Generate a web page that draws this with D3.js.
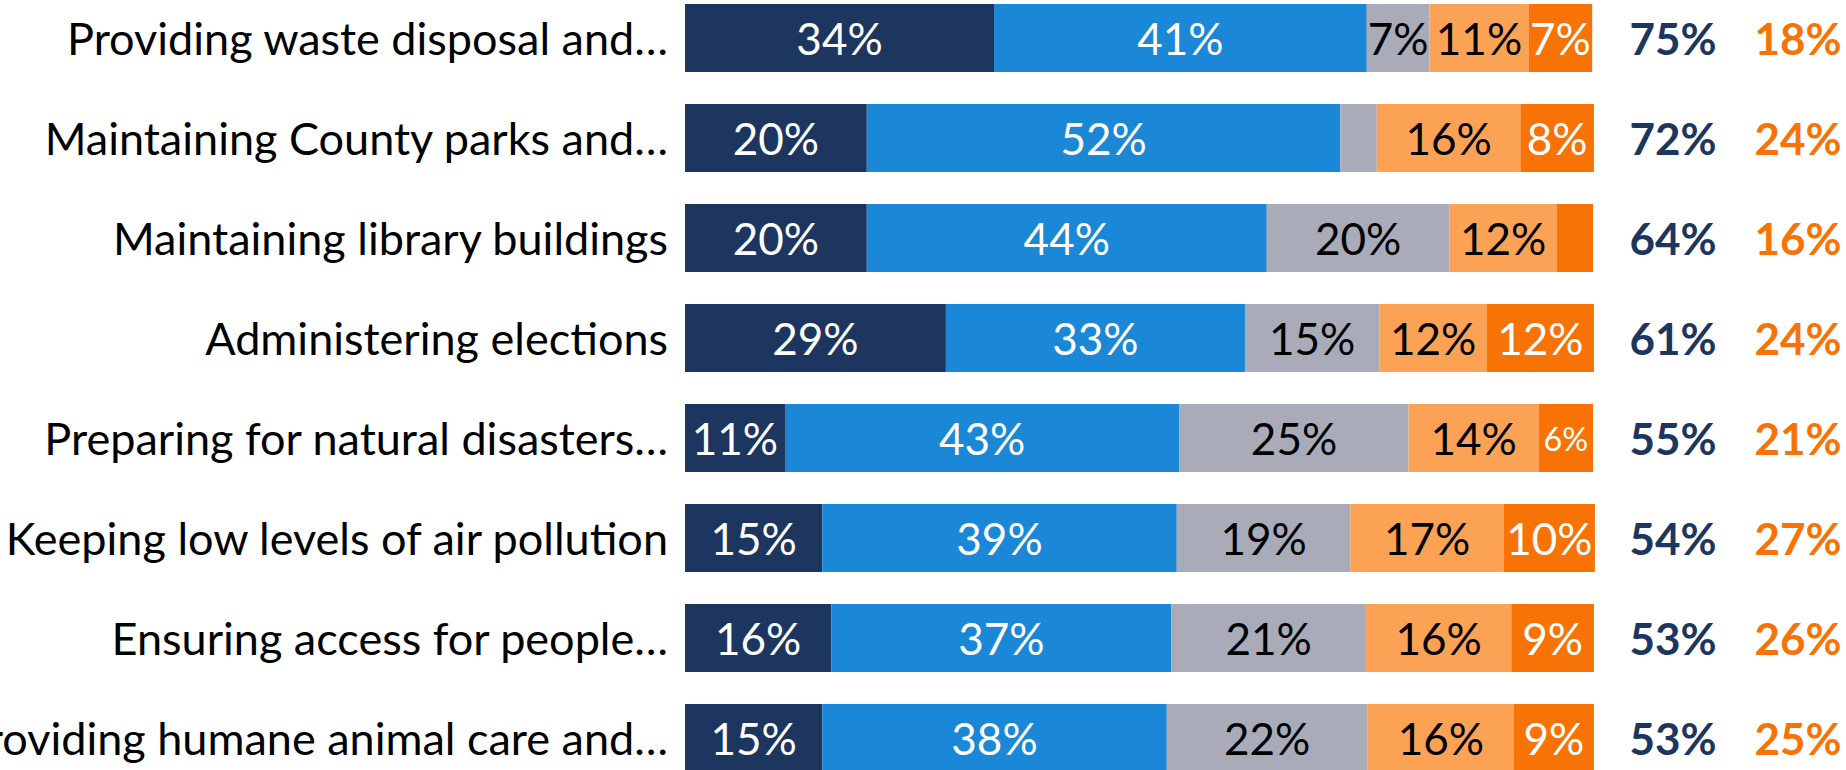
<!DOCTYPE html>
<html>
<head>
<meta charset="utf-8">
<script src="https://cdn.jsdelivr.net/npm/d3@7"></script>
<style>
    body { margin: 0; background: #fff; }
    svg { display: block; }
</style>
</head>
<body>
<svg id="chart" width="1846" height="770"></svg>
<script>
(function() {
    // services, top to bottom
    var categories = [
        "Providing waste disposal and…",
        "Maintaining County parks and…",
        "Maintaining library buildings",
        "Administering elections",
        "Preparing for natural disasters…",
        "Keeping low levels of air pollution",
        "Ensuring access for people…",
        "Providing humane animal care and…"
    ];

    // shares per answer (%)
    var excellent = [34.0, 20.0, 20.0, 28.7, 11.0, 15.1, 16.1, 15.1];
    var good      = [41.0, 52.1, 44.0, 32.9, 43.4, 39.0, 37.4, 37.9];
    var neutral   = [6.9,  4.0,  20.1, 14.8, 25.2, 19.1, 21.4, 22.1];
    var poor      = [10.9, 15.8, 11.8, 11.8, 14.3, 16.9, 16.0, 16.1];
    var veryPoor  = [7.0,  8.1,  4.0,  11.8, 6.0,  10.0, 9.1,  8.8];

    // net columns on the right
    var totalGood = [75, 72, 64, 61, 55, 54, 53, 53];
    var totalPoor = [18, 24, 16, 24, 21, 27, 26, 25];

    var series = [excellent, good, neutral, poor, veryPoor];
    var couleurs = ["#1d3660", "#1a88d7", "#a9abb8", "#fca254", "#f87305"];
    var couleursTexte = ["#fff", "#fff", "#000", "#000", "#fff"];

    var svg = d3.select("#chart"),
        police = "Lato, 'Open Sans', sans-serif",
        taille = 44;

    var x = d3.scaleLinear().domain([0, 100]).range([685, 1594]);
    var y = d3.scaleBand()
        .domain(categories)
        .range([-12, 788])
        .paddingInner(0.32)
        .paddingOuter(0.16);

    // stacked segments
    var lignes = categories.map(function(c, i) {
        var x0 = 0;
        return series.map(function(s, k) {
            var seg = { cat: c, k: k, v: s[i], x0: x0, x1: x0 + s[i] };
            x0 += s[i];
            return seg;
        });
    });
    var segs = [].concat.apply([], lignes);

    svg.selectAll("rect.seg")
        .data(segs)
        .enter().append("rect")
        .attr("class", "seg")
        .attr("x", function(d) { return x(d.x0); })
        .attr("y", function(d) { return y(d.cat); })
        .attr("width", function(d) { return x(d.x1) - x(d.x0); })
        .attr("height", y.bandwidth())
        .attr("fill", function(d) { return couleurs[d.k]; });

    // value labels (none under 5%)
    svg.selectAll("text.val")
        .data(segs.filter(function(d) { return d.v >= 5; }))
        .enter().append("text")
        .attr("class", "val")
        .attr("x", function(d) { return (x(d.x0) + x(d.x1)) / 2; })
        .attr("y", function(d) { return y(d.cat) + y.bandwidth() / 2; })
        .attr("text-anchor", "middle")
        .attr("dominant-baseline", "central")
        .style("font-family", police)
        .style("font-size", taille + "px")
        .attr("fill", function(d) { return couleursTexte[d.k]; })
        .text(function(d) { return Math.round(d.v) + "%"; })
        .each(function(d) {
            // shrink the label if the segment is too narrow
            var dispo = x(d.x1) - x(d.x0),
                l = this.getComputedTextLength();
            if (l > dispo) d3.select(this).style("font-size", (taille * dispo / l * 0.82) + "px");
        });

    // category labels
    svg.selectAll("text.cat")
        .data(categories)
        .enter().append("text")
        .attr("class", "cat")
        .attr("x", 668)
        .attr("y", function(d) { return y(d) + y.bandwidth() / 2; })
        .attr("text-anchor", "end")
        .attr("dominant-baseline", "central")
        .style("font-family", police)
        .style("font-size", "45px")
        .attr("fill", "#000")
        .text(function(d) { return d; });

    // totals
    svg.selectAll("text.tg")
        .data(totalGood)
        .enter().append("text")
        .attr("class", "tg")
        .attr("x", 1673)
        .attr("y", function(d, i) { return y(categories[i]) + y.bandwidth() / 2; })
        .attr("text-anchor", "middle")
        .attr("dominant-baseline", "central")
        .style("font-family", police)
        .style("font-size", taille + "px")
        .style("font-weight", "bold")
        .attr("fill", "#1d3660")
        .text(function(d) { return d + "%"; });

    svg.selectAll("text.tp")
        .data(totalPoor)
        .enter().append("text")
        .attr("class", "tp")
        .attr("x", 1798)
        .attr("y", function(d, i) { return y(categories[i]) + y.bandwidth() / 2; })
        .attr("text-anchor", "middle")
        .attr("dominant-baseline", "central")
        .style("font-family", police)
        .style("font-size", taille + "px")
        .style("font-weight", "bold")
        .attr("fill", "#f87305")
        .text(function(d) { return d + "%"; });
})();
</script>
</body>
</html>
